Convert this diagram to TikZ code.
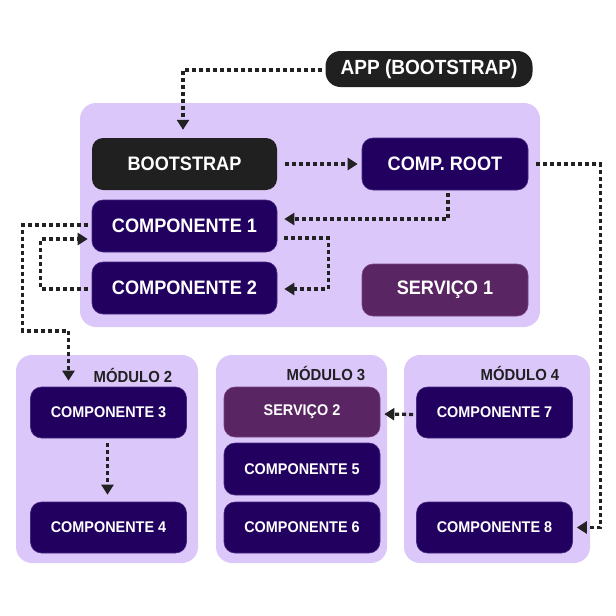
\documentclass[tikz,border=0pt]{standalone}
\usepackage{fontspec}
\setmainfont{Liberation Sans}[FakeStretch=0.93]
\usetikzlibrary{arrows.meta}
\definecolor{lav}{HTML}{DCC7FB}
\definecolor{dpurple}{HTML}{210060}
\definecolor{spurple}{HTML}{5A2563}
\definecolor{blk}{HTML}{202020}
\definecolor{arr}{HTML}{222222}
\begin{document}
\begin{tikzpicture}[x=1pt,y=-1pt,
  modbg/.style={fill=lav, rounded corners=16pt},
  basebox/.style={rectangle, rounded corners=11pt, text=white, inner sep=0pt},
  bigbox/.style={basebox, font=\bfseries\fontsize{19.5}{21}\selectfont, minimum height=52pt},
  smallbox/.style={basebox, font=\bfseries\fontsize{15.5}{17}\selectfont, minimum width=156pt, minimum height=51pt},
  comp/.style={fill=dpurple, draw=dpurple!80!lav, line width=0.6pt},
  serv/.style={fill=spurple, draw=spurple!80!lav, line width=0.6pt},
  dark/.style={fill=blk},
  modlabel/.style={font=\bfseries\fontsize{16}{18}\selectfont, text=blk, inner sep=0pt},
  flow/.style={draw=arr, line width=3.3pt, dash pattern=on 4pt off 3pt,
    -{Triangle[length=10pt,width=12pt]}},
]
\useasboundingbox (0,0) rectangle (616,616);

% module backgrounds
\fill[modbg] (80,103) rectangle (540,327);
\fill[modbg] (16,355) rectangle (198,563);
\fill[modbg] (216,355) rectangle (387,563);
\fill[modbg] (404,355) rectangle (590,563);

% top module
\node[basebox, dark, font=\bfseries\fontsize{20.5}{22}\selectfont, minimum width=207pt, minimum height=36pt, rounded corners=15pt] (app) at (429,69) {APP (BOOTSTRAP)};
\node[bigbox, dark, minimum width=185pt] (boot) at (184.5,164) {BOOTSTRAP};
\node[bigbox, comp, minimum width=166pt] (root) at (445,164) {COMP. ROOT};
\node[bigbox, comp, minimum width=185pt] (c1) at (184.5,226) {COMPONENTE 1};
\node[bigbox, comp, minimum width=185pt] (c2) at (184.5,288) {COMPONENTE 2};
\node[bigbox, serv, minimum width=166pt] (s1) at (445,290) {SERVIÇO 1};

% module labels
\node[modlabel] (m2) at (133,375) {MÓDULO 2};
\node[modlabel] (m3) at (326,373) {MÓDULO 3};
\node[modlabel] (m4) at (520,373) {MÓDULO 4};

% lower modules
\node[smallbox, comp] (c3) at (108.5,412.5) {COMPONENTE 3};
\node[smallbox, comp] (c4) at (108.5,527.5) {COMPONENTE 4};
\node[smallbox, serv, minimum height=50pt] (s2) at (302,412) {SERVIÇO 2};
\node[smallbox, comp, minimum height=52pt] (c5) at (302,469) {COMPONENTE 5};
\node[smallbox, comp] (c6) at (302,527.5) {COMPONENTE 6};
\node[smallbox, comp] (c7) at (494.5,412.5) {COMPONENTE 7};
\node[smallbox, comp] (c8) at (494.5,527.5) {COMPONENTE 8};

% connectors
\draw[flow, shorten <=3pt, shorten >=8pt] ([yshift=-1pt]app.west) -| ([xshift=-1.5pt]boot.north);
\draw[flow, shorten <=8pt, shorten >=4pt] (boot.east) -- (root.west);
\draw[flow, shorten <=3pt, shorten >=7pt] ([xshift=3pt]root.south) |- ([yshift=7pt]c1.east);
\draw[flow, shorten <=7pt, shorten >=7pt] ([yshift=-12pt]c1.east) -- ++(51,0) |- ([yshift=-1pt]c2.east);
\draw[flow, shorten <=4pt, shorten >=4pt] ([yshift=-1pt]c2.west) -- ++(-51,0) |- ([yshift=-13pt]c1.west);
\draw[flow, shorten <=4pt, shorten >=6pt] ([yshift=1pt]c1.west) -- ++(-69,0) -- ++(0,106) -| ([xshift=-40pt]c3.north);
\draw[flow, shorten <=8pt, shorten >=4pt] (root.east) -- ++(72,0) |- (c8.east);
\draw[flow, shorten <=3pt, shorten >=4pt] ([yshift=-2pt]c7.west) -- ([yshift=-2pt]s2.east);
\draw[flow, shorten <=5pt, shorten >=7pt] ([xshift=-1pt]c3.south) -- ([xshift=-1pt]c4.north);
\end{tikzpicture}
\end{document}
